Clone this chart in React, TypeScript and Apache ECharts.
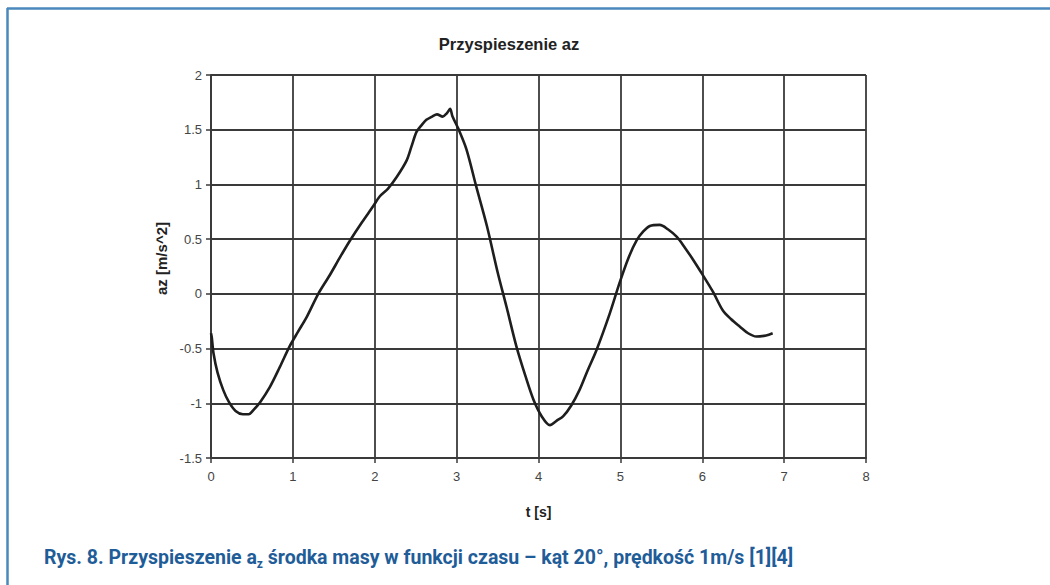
import React, { useEffect, useRef } from "react";
import * as echarts from "echarts";

const timeS = [0, 0.01, 0.03, 0.08, 0.15, 0.22, 0.3, 0.39, 0.46, 0.52, 0.6, 0.72, 0.84, 0.96, 1.06, 1.17, 1.31, 1.45, 1.58, 1.7, 1.84, 1.98, 2.06, 2.16, 2.27, 2.39, 2.45, 2.51, 2.57, 2.63, 2.7, 2.76, 2.83, 2.88, 2.92, 2.95, 3.02, 3.12, 3.24, 3.37, 3.5, 3.61, 3.73, 3.84, 3.94, 4.04, 4.14, 4.22, 4.3, 4.4, 4.5, 4.6, 4.71, 4.87, 4.99, 5.1, 5.2, 5.28, 5.36, 5.48, 5.58, 5.69, 5.79, 5.89, 6.0, 6.13, 6.25, 6.35, 6.46, 6.56, 6.66, 6.78, 6.86];
const accelAz = [-0.36, -0.4, -0.54, -0.72, -0.88, -0.99, -1.07, -1.1, -1.1, -1.06, -0.99, -0.85, -0.67, -0.48, -0.35, -0.21, 0.0, 0.17, 0.34, 0.49, 0.65, 0.8, 0.89, 0.96, 1.07, 1.22, 1.35, 1.48, 1.54, 1.59, 1.62, 1.64, 1.62, 1.65, 1.69, 1.62, 1.51, 1.32, 0.98, 0.62, 0.2, -0.12, -0.48, -0.75, -0.97, -1.12, -1.2, -1.16, -1.12, -1.02, -0.88, -0.7, -0.51, -0.18, 0.1, 0.33, 0.49, 0.57, 0.62, 0.63, 0.59, 0.52, 0.42, 0.31, 0.18, 0.02, -0.15, -0.23, -0.3, -0.36, -0.39, -0.38, -0.36];

const chartTitle = "Przyspieszenie az";
const xAxisName = "t [s]";
const yAxisName = "az [m/s^2]";
const captionMain = "Rys. 8. Przyspieszenie a";
const captionSub = "z";
const captionRest = " środka masy w funkcji czasu – kąt 20°, prędkość 1m/s [1][4]";

export default function App() {
  const ref = useRef<HTMLDivElement>(null);
  useEffect(() => {
    if (!ref.current) return;
    const chart = echarts.init(ref.current, null, { renderer: "svg" });
    const gridColor = "#3a3a3a";
    const blue = "#4a88bd";
    const capColor = "#1f5d99";
    chart.setOption({
      animation: false,
      backgroundColor: "#ffffff",
      grid: { left: 211, top: 75, right: 184, bottom: 127, containLabel: false },
      xAxis: {
        type: "value",
        min: 0,
        max: 8,
        interval: 1,
        name: xAxisName,
        nameLocation: "middle",
        nameGap: 47,
        nameTextStyle: { fontFamily: "Liberation Sans", fontWeight: "bold", fontSize: 14, color: "#222" },
        axisLine: { show: true, onZero: false, lineStyle: { color: gridColor, width: 2 } },
        axisTick: { show: true, inside: false, length: 5, lineStyle: { color: gridColor, width: 1.5 } },
        axisLabel: { color: "#444", fontFamily: "Liberation Sans", fontSize: 13, margin: 12 },
        splitLine: { show: true, lineStyle: { color: gridColor, width: 1.8 } },
      },
      yAxis: {
        type: "value",
        min: -1.5,
        max: 2,
        interval: 0.5,
        name: yAxisName,
        nameLocation: "middle",
        nameGap: 36,
        nameRotate: 90,
        nameTextStyle: { fontFamily: "Liberation Sans", fontWeight: "bold", fontSize: 15, color: "#222", padding: [0, 0, 0, 16] },
        axisLine: { show: true, lineStyle: { color: gridColor, width: 2 } },
        axisTick: { show: true, inside: false, length: 5, lineStyle: { color: gridColor, width: 1.5 } },
        axisLabel: { color: "#444", fontFamily: "Liberation Sans", fontSize: 13, margin: 9 },
        splitLine: { show: true, lineStyle: { color: gridColor, width: 1.8 } },
      },
      series: [
        {
          type: "line",
          data: timeS.map((t, i) => [t, accelAz[i]]),
          showSymbol: false,
          smooth: 0.3,
          lineStyle: { color: "#1e1e1e", width: 2.6 },
        },
      ],
      graphic: [
        {
          type: "line",
          shape: { x1: 7, y1: 8.5, x2: 1050, y2: 8.5 },
          style: { stroke: blue, lineWidth: 2.5 },
        },
        {
          type: "line",
          shape: { x1: 7.5, y1: 8, x2: 7.5, y2: 585 },
          style: { stroke: blue, lineWidth: 2.5 },
        },
        {
          type: "text",
          x: 509,
          y: 44,
          style: {
            text: chartTitle,
            fontFamily: "Liberation Sans",
            fontWeight: "bold",
            fontSize: 16.5,
            fill: "#222",
            align: "center",
            verticalAlign: "middle",
          },
        },
        {
          type: "text",
          x: 44,
          y: 557,
          style: {
            text: "{m|" + captionMain + "}{s|" + captionSub + "}{m|" + captionRest + "}",
            verticalAlign: "middle",
            rich: {
              m: { fontFamily: "Roboto", fontWeight: "bold", fontSize: 19.5, fill: capColor, color: capColor },
              s: { fontFamily: "Roboto", fontWeight: "bold", fontSize: 12, fill: capColor, color: capColor, padding: [14, 0, 0, 0] },
            },
          },
        },
      ],
    });
    return () => chart.dispose();
  }, []);
  return (
    <div
      ref={ref}
      style={{ position: "absolute", left: 0, top: 0, width: 1050, height: 585, background: "#fff" }}
    />
  );
}
